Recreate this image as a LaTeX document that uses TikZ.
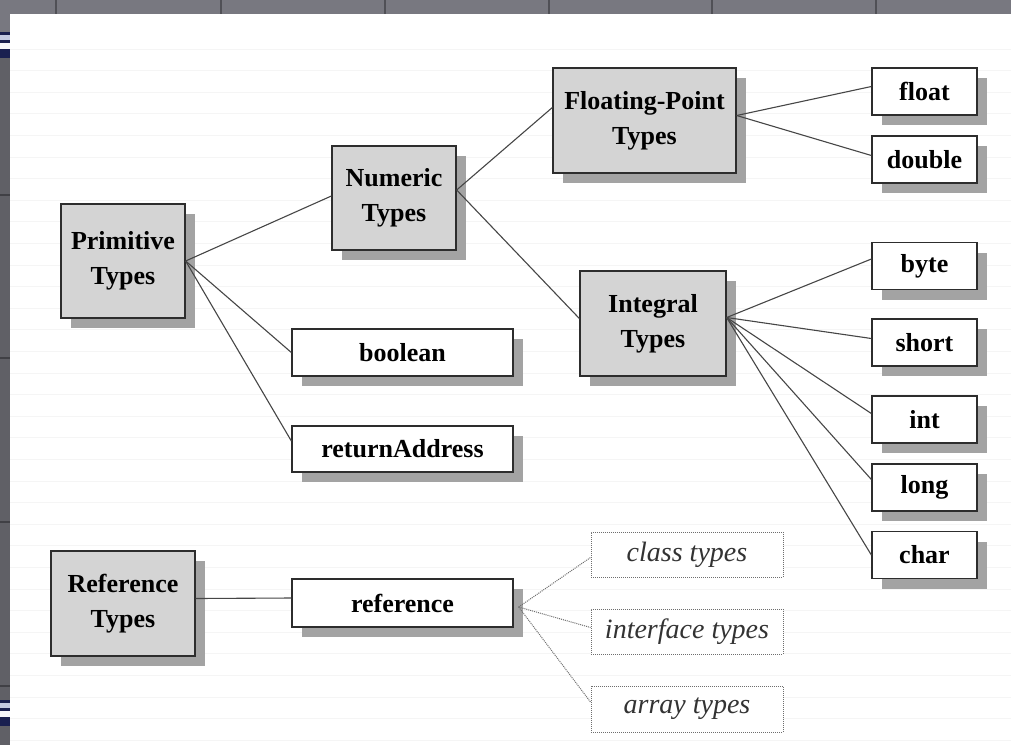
\documentclass[tikz,border=0pt]{standalone}
\usepackage{fontspec}
\setmainfont{Liberation Serif}
\usetikzlibrary{shadows}

\definecolor{boxgray}{RGB}{212,212,212}
\definecolor{shadegray}{RGB}{163,163,163}
\definecolor{edgegray}{RGB}{45,45,45}
\definecolor{wiregray}{RGB}{70,70,70}
\definecolor{dotgray}{RGB}{110,110,110}
\definecolor{rulegray}{RGB}{245,245,245}
\definecolor{stripgray}{RGB}{120,120,128}
\definecolor{sidegray}{RGB}{96,96,102}
\definecolor{sepgray}{RGB}{80,80,86}
\definecolor{navy}{RGB}{26,32,80}
\definecolor{lavender}{RGB}{196,202,226}

\tikzset{
  typebox/.style={draw=edgegray, line width=1.3pt, fill=boxgray, inner sep=0pt,
    align=center, font=\bfseries\fontsize{26}{35}\selectfont,
    drop shadow={shadow xshift=10pt, shadow yshift=-10pt, fill=shadegray, opacity=1}},
  leafbox/.style={typebox, fill=white, minimum width=221pt},
  smallbox/.style={typebox, fill=white, minimum width=105pt, minimum height=47pt},
  kindbox/.style={draw=dotgray, line width=1pt, dash pattern=on 1pt off 1pt, fill=white,
    minimum width=192pt, minimum height=45pt, inner sep=0pt, text=black!80,
    font=\itshape\fontsize{28}{34}\selectfont},
  link/.style={draw=wiregray, line width=1.1pt},
  dotlink/.style={draw=dotgray, line width=1pt, dash pattern=on 1pt off 1pt},
  rule/.style={draw=rulegray, line width=1pt}
}

\begin{document}
\begin{tikzpicture}[x=1pt, y=-1pt]
\useasboundingbox (0,0) rectangle (1011,745);
\fill[white] (0,0) rectangle (1011,745);

% ruled paper
\foreach \k in {0,...,32}
  \draw[rule] (10,{49+21.6*\k}) -- (1011,{49+21.6*\k});

% window frame: top strip with tab separators
\fill[stripgray] (0,0) rectangle (1011,14);
\foreach \sx in {56,221,385,549,712,876}
  \draw[sepgray, line width=1.5pt] (\sx,0) -- (\sx,14);
% left strip
\fill[sidegray] (0,14) rectangle (10,745);
\fill[stripgray] (0,0) rectangle (10,32);
\foreach \sy in {195,358,522,686}
  \draw[sepgray!80!black, line width=1.5pt] (0,\sy) -- (10,\sy);
% highlighted tabs on the left strip
\foreach \ty in {32,700}{
  \fill[navy] (0,\ty) rectangle (10,\ty+26);
  \fill[lavender] (0,\ty+3) rectangle (10,\ty+8);
  \fill[white!85!lavender] (0,\ty+11) rectangle (10,\ty+17);
}

% primitive types
\node[typebox, minimum width=124pt, minimum height=114pt] (prim) at (123,261) {Primitive\\Types};
\node[typebox, minimum width=124pt, minimum height=104pt] (num) at (394,198) {Numeric\\Types};
\node[typebox, minimum width=183pt, minimum height=105pt] (fp) at (644.5,120.5) {Floating-Point\\Types};
\node[typebox, minimum width=146pt, minimum height=105pt] (integ) at (653,323.5) {Integral\\Types};
\node[leafbox, minimum height=47pt] (bool) at (402.5,352.5) {boolean};
\node[leafbox, minimum height=46pt] (ret) at (402.5,449) {returnAddress};

\node[smallbox] (float) at (924.5,91.5) {float};
\node[smallbox] (double) at (924.5,159.5) {double};
\node[smallbox] (byte) at (924.5,266) {byte};
\node[smallbox] (short) at (924.5,342.5) {short};
\node[smallbox] (int) at (924.5,419.5) {int};
\node[smallbox] (long) at (924.5,487.5) {long};
\node[smallbox] (char) at (924.5,555) {char};

% reference types
\node[typebox, minimum width=144pt, minimum height=105pt] (reft) at (123,603.5) {Reference\\Types};
\node[leafbox, minimum height=48pt] (refn) at (402.5,603) {reference};
\node[kindbox] (cls) at (687,554.5) {class types};
\node[kindbox] (ifc) at (687,631.5) {interface types};
\node[kindbox, minimum height=46pt] (arr) at (687,709) {array types};

% connectors
\draw[link] (prim.east) -- ([yshift=2pt]num.west);
\draw[link] (prim.east) -- (bool.west);
\draw[link] (prim.east) -- ([yshift=8pt]ret.west);
\draw[link] ([yshift=8pt]num.east) -- ([yshift=13pt]fp.west);
\draw[link] ([yshift=8pt]num.east) -- ([yshift=5pt]integ.west);
\draw[link] ([yshift=5pt]fp.east) -- ([yshift=5pt]float.west);
\draw[link] ([yshift=5pt]fp.east) -- ([yshift=4pt]double.west);
\draw[link] ([yshift=6pt]integ.east) -- ([yshift=7pt]byte.west);
\draw[link] ([yshift=6pt]integ.east) -- ([yshift=4pt]short.west);
\draw[link] ([yshift=6pt]integ.east) -- ([yshift=6pt]int.west);
\draw[link] ([yshift=6pt]integ.east) -- ([yshift=8pt]long.west);
\draw[link] ([yshift=6pt]integ.east) -- (char.west);
\draw[link] ([yshift=5pt]reft.east) -- ([yshift=5pt]refn.west);
\draw[dotlink] ([xshift=5pt,yshift=-4pt]refn.east) -- ([yshift=-3pt]cls.west);
\draw[dotlink] ([xshift=5pt,yshift=-4pt]refn.east) -- ([yshift=4pt]ifc.west);
\draw[dotlink] ([xshift=5pt,yshift=-4pt]refn.east) -- ([yshift=7pt]arr.west);
\end{tikzpicture}
\end{document}
